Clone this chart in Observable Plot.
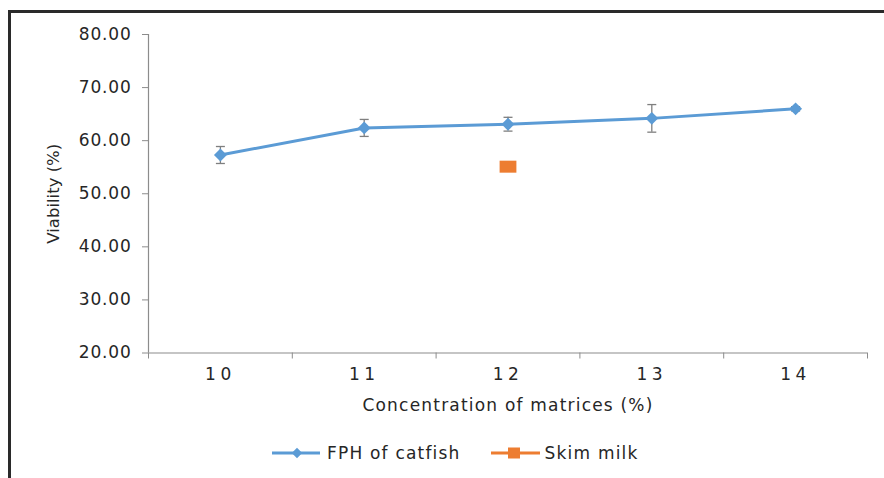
<!DOCTYPE html>
<html>
<head>
<meta charset="utf-8">
<script src="https://cdn.jsdelivr.net/npm/d3@7"></script>
<script src="https://cdn.jsdelivr.net/npm/@observablehq/plot@0.6"></script>
<style>
  html, body { margin: 0; padding: 0; background: #fff; }
  #wrap { position: relative; width: 884px; height: 478px; overflow: hidden; font-family: "DejaVu Sans", sans-serif; }
  #chart { position: absolute; left: 0; top: 0; }
  #frame { position: absolute; left: 8px; top: 10px; right: -10px; bottom: -10px;
           border-top: 3px solid #2a2a2a; border-left: 3px solid #2a2a2a; pointer-events: none; }
  #legend { position: absolute; left: 272px; top: 440px; height: 26px; display: flex; align-items: center;
            font-size: 17px; letter-spacing: 1.2px; color: #262626; white-space: nowrap; }
  #legend .item { display: flex; align-items: center; }
  #legend svg { display: block; }
  g[aria-label="y-axis tick label"] text { letter-spacing: 0.8px; }
  g[aria-label="x-axis tick label"] text { letter-spacing: 4.5px; }
  g[aria-label="x-axis label"] text { letter-spacing: 1.2px; font-size: 17px; }
  g[aria-label="y-axis label"] text { letter-spacing: 0; font-size: 16.5px; }
</style>
</head>
<body>
<div id="wrap">
  <div id="chart"></div>
  <div id="legend"></div>
  <div id="frame"></div>
</div>
<script>
// ---- data ----
const concentrations = [10, 11, 12, 13, 14];
const xTickLabels = ["10", "11", "12", "13", "14"];
const xBoundaries = [9.5, 10.5, 11.5, 12.5, 13.5, 14.5];
const fphViability = [57.3, 62.4, 63.1, 64.2, 66.0];
const fphError = [1.6, 1.6, 1.3, 2.6, 0.4];
const skimConcentration = [12];
const skimViability = [55.1];
const yTicks = [20, 30, 40, 50, 60, 70, 80];
const seriesNames = ["FPH of catfish", "Skim milk"];

const fph = concentrations.map((c, i) => ({ c, v: fphViability[i], e: fphError[i] }));
const skim = skimConcentration.map((c, i) => ({ c, v: skimViability[i] }));

const blue = "#5b9bd5", orange = "#ed7d31", axisGray = "#8c8c8c", errGray = "#7f7f7f", textColor = "#262626";

const rectSymbol = { draw(ctx, size) { const r = Math.sqrt(size / Math.PI); ctx.rect(-1.4 * r, -r, 2.8 * r, 2 * r); } };
const capSymbol = { draw(ctx, size) { const r = Math.sqrt(size / Math.PI); ctx.moveTo(-r, 0); ctx.lineTo(r, 0); } };

const H = 430;
const plot = Plot.plot({
  width: 884,
  height: H,
  marginLeft: 148,
  marginRight: 17,
  marginTop: 34,
  marginBottom: H - 352.5,
  style: { fontFamily: "DejaVu Sans", background: "transparent", overflow: "visible", color: textColor },
  x: { domain: [9.5, 14.5] },
  y: { domain: [20, 80] },
  marks: [
    Plot.axisY({
      ticks: yTicks, tickFormat: d3.format(".2f"), tickSize: 6, tickPadding: 11,
      stroke: axisGray, fill: textColor, fontSize: 17,
      label: "Viability (%)", labelAnchor: "center", labelOffset: 101, labelArrow: "none"
    }),
    Plot.axisX({
      ticks: concentrations, tickFormat: d => xTickLabels[concentrations.indexOf(d)],
      tickSize: 0, tickPadding: 15, fill: textColor, fontSize: 17,
      label: "Concentration of matrices (%)", labelAnchor: "center", labelOffset: 58, labelArrow: "none"
    }),
    Plot.axisX({ ticks: xBoundaries, tickSize: 6, tickFormat: () => "", stroke: axisGray, label: null }),
    Plot.ruleX([9.5], { stroke: axisGray, strokeWidth: 1.2 }),
    Plot.ruleY([20], { stroke: axisGray, strokeWidth: 1.2 }),
    // error bars
    Plot.ruleX(fph, { x: "c", y1: d => d.v - d.e, y2: d => d.v + d.e, stroke: errGray, strokeWidth: 1.3 }),
    Plot.dot(fph, { x: "c", y: d => d.v + d.e, symbol: capSymbol, r: 4.5, stroke: errGray, strokeWidth: 1.3, fill: "none" }),
    Plot.dot(fph, { x: "c", y: d => d.v - d.e, symbol: capSymbol, r: 4.5, stroke: errGray, strokeWidth: 1.3, fill: "none" }),
    // series
    Plot.line(fph, { x: "c", y: "v", stroke: blue, strokeWidth: 3 }),
    Plot.dot(fph, { x: "c", y: "v", symbol: "diamond2", r: 5.8, fill: blue, stroke: "none" }),
    Plot.dot(skim, { x: "c", y: "v", symbol: rectSymbol, r: 6, fill: orange, stroke: "none" })
  ]
});
document.getElementById("chart").appendChild(plot);

// ---- legend ----
const legend = document.getElementById("legend");
legend.innerHTML = `
  <div class="item">
    <svg width="48" height="14"><line x1="0" y1="7" x2="48" y2="7" stroke="${blue}" stroke-width="3"/>
      <path d="M25,1.8 L30.2,7 L25,12.2 L19.8,7 Z" fill="${blue}"/></svg>
    <span style="margin-left:7px">${seriesNames[0]}</span>
  </div>
  <div class="item" style="margin-left:30px">
    <svg width="49" height="14"><line x1="0" y1="7" x2="49" y2="7" stroke="${orange}" stroke-width="3"/>
      <rect x="17" y="1.5" width="12" height="11" fill="${orange}"/></svg>
    <span style="margin-left:5px">${seriesNames[1]}</span>
  </div>`;
</script>
</body>
</html>
